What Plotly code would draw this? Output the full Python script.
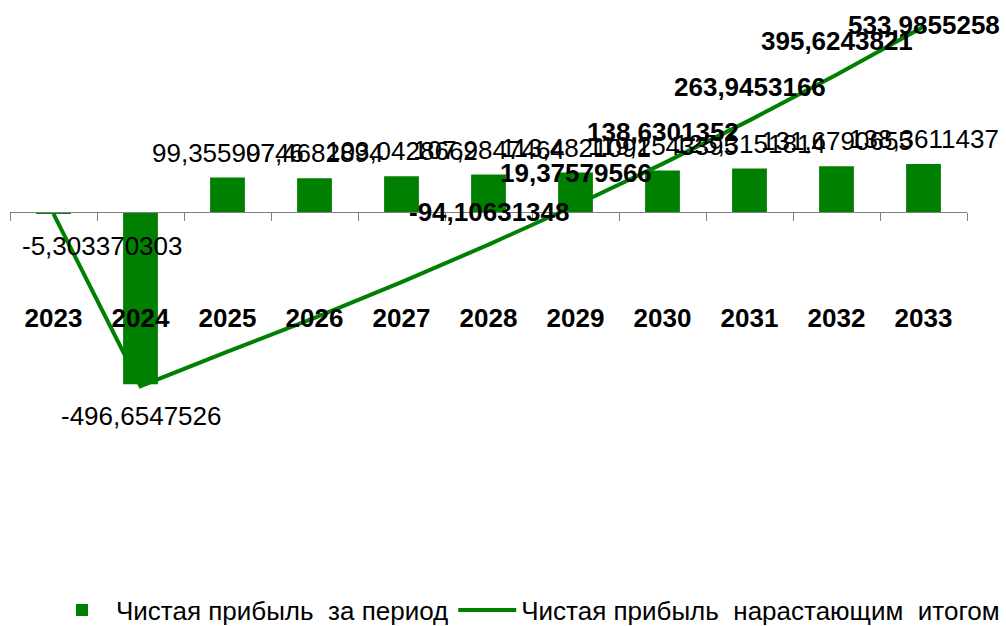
import plotly.graph_objects as go

# ---------------- data ----------------
years = ["2023", "2024", "2025", "2026", "2027", "2028", "2029", "2030", "2031", "2032", "2033"]
profit_period = [-5.303370303, -496.6547526, 99.35590746, 97.4682894, 103.0428662,
                 107.9847464, 113.4821091, 119.2543395, 125.3151814, 131.6790655, 138.3611437]
profit_cumulative = [-5.303370303, -501.9581229, -402.6022154, -305.133926, -202.0910598,
                     -94.10631348, 19.37579566, 138.6301352, 263.9453166, 395.6243821, 533.9855258]
line_label_shown = [False, False, False, False, False, True, True, True, True, True, True]

series_names = ["Чистая прибыль\u00a0 за период", "Чистая прибыль\u00a0 нарастающим\u00a0 итогом"]

# ---------------- style ----------------
FONT = "Liberation Sans, Arial, sans-serif"
GREEN = "#008000"
AXIS_GRAY = "#808080"
W, H = 1006, 626
Y_MAX, Y_MIN = 553.3, -541.8
zero_pos = (0 - Y_MIN) / (Y_MAX - Y_MIN)
BAR_LABEL_OFFSET_POS = 25
BAR_LABEL_OFFSET_NEG = 32
LINE_LABEL_OFFSETS = [32, 32, 32, 32, 32, 33, 32, 32, 33, 34, 2]


def fmt(v):
    return f"{v:.10g}".replace(".", ",")


fig = go.Figure()
fig.add_trace(go.Bar(x=years, y=profit_period, name=series_names[0],
                     marker=dict(color=GREEN, line=dict(width=0))))
fig.add_trace(go.Scatter(x=years, y=profit_cumulative, name=series_names[1], mode="lines",
                         line=dict(color=GREEN, width=4)))

annotations = []
for i, v in enumerate(profit_period):
    a = dict(x=i, y=v, xref="x", yref="y", text=fmt(v), showarrow=False,
             yshift=BAR_LABEL_OFFSET_POS if v >= 0 else -BAR_LABEL_OFFSET_NEG,
             font=dict(family=FONT, size=26, color="black"))
    if i == 0:
        a.update(xanchor="left", xshift=-34)
    annotations.append(a)

for i, v in enumerate(profit_cumulative):
    if not line_label_shown[i]:
        continue
    annotations.append(dict(x=i, y=v, xref="x", yref="y", text=fmt(v), showarrow=False,
                            yshift=LINE_LABEL_OFFSETS[i],
                            font=dict(family=FONT, size=26, color="black", weight="bold")))

fig.update_layout(
    width=W, height=H,
    margin=dict(l=10, r=39, t=20, b=226, autoexpand=False),
    plot_bgcolor="white", paper_bgcolor="white",
    bargap=0.6,
    font=dict(family=FONT, size=26, color="black"),
    showlegend=True,
    legend=dict(orientation="h", xref="container", yref="container",
                x=1005 / W, xanchor="right", y=1 - 610 / H, yanchor="middle",
                font=dict(family=FONT, size=26, color="black"), traceorder="normal",
                bgcolor="rgba(0,0,0,0)", itemwidth=58),
    annotations=annotations,
)
fig.update_xaxes(type="category", anchor="free", position=zero_pos,
                 range=[-0.5, len(years) - 0.5],
                 showline=True, linecolor=AXIS_GRAY, linewidth=1,
                 ticks="outside", tickson="boundaries", ticklen=8, tickcolor=AXIS_GRAY, tickwidth=1,
                 tickfont=dict(family=FONT, size=26, color="black", weight="bold"),
                 ticklabelstandoff=83, tickangle=0, showgrid=False, zeroline=False)
fig.update_yaxes(range=[Y_MIN, Y_MAX], visible=False, showgrid=False, zeroline=False)

fig.write_html("out.html", config={"displayModeBar": False},
               post_script="document.body.style.margin='0';document.body.style.overflow='hidden';")
